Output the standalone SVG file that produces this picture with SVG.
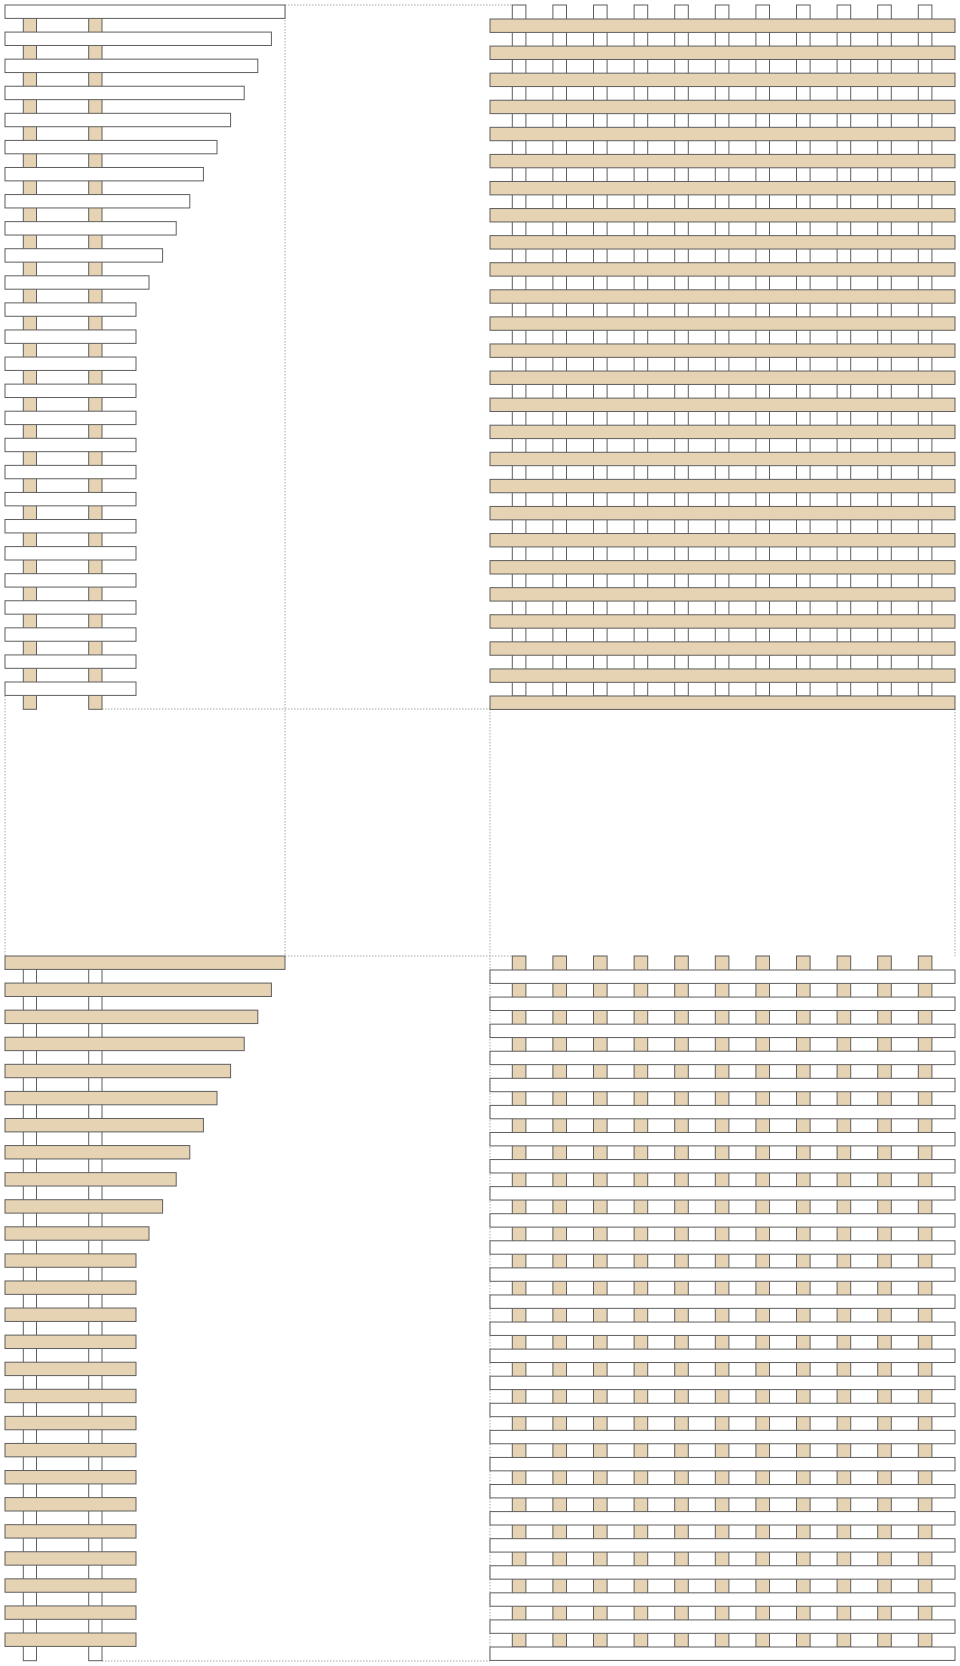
<svg xmlns="http://www.w3.org/2000/svg" width="960" height="1666" viewBox="0 0 960 1666">
<style>
.tan{fill:#e6d3b4;stroke:#5e5e5e;stroke-width:1}
.wht{fill:#ffffff;stroke:#5e5e5e;stroke-width:1}
.dot{fill:none;stroke:#a8a8a8;stroke-width:1;stroke-dasharray:1.5 1.5}
</style>
<rect width="960" height="1666" fill="#ffffff"/>
<g id="guides">
<path class="dot" d="M285 5H512 M285 5V956 M102 709H955 M5 696V956 M955 709V956 M285 956H512 M490 709V1661 M102 1661H490"/>
</g>
<g id="panel-top-left">
<rect class="tan" x="23.3" y="10" width="13.2" height="699.3"/>
<rect class="tan" x="88.7" y="10" width="13.3" height="699.3"/>
<rect class="wht" x="5" y="5" width="280" height="13.4"/>
<rect class="wht" x="5" y="32.08" width="266.4" height="13.4"/>
<rect class="wht" x="5" y="59.16" width="252.8" height="13.4"/>
<rect class="wht" x="5" y="86.24" width="239.2" height="13.4"/>
<rect class="wht" x="5" y="113.32" width="225.6" height="13.4"/>
<rect class="wht" x="5" y="140.4" width="212" height="13.4"/>
<rect class="wht" x="5" y="167.48" width="198.4" height="13.4"/>
<rect class="wht" x="5" y="194.56" width="184.8" height="13.4"/>
<rect class="wht" x="5" y="221.64" width="171.2" height="13.4"/>
<rect class="wht" x="5" y="248.72" width="157.6" height="13.4"/>
<rect class="wht" x="5" y="275.8" width="144" height="13.4"/>
<rect class="wht" x="5" y="302.88" width="131" height="13.4"/>
<rect class="wht" x="5" y="329.96" width="131" height="13.4"/>
<rect class="wht" x="5" y="357.04" width="131" height="13.4"/>
<rect class="wht" x="5" y="384.12" width="131" height="13.4"/>
<rect class="wht" x="5" y="411.2" width="131" height="13.4"/>
<rect class="wht" x="5" y="438.28" width="131" height="13.4"/>
<rect class="wht" x="5" y="465.36" width="131" height="13.4"/>
<rect class="wht" x="5" y="492.44" width="131" height="13.4"/>
<rect class="wht" x="5" y="519.52" width="131" height="13.4"/>
<rect class="wht" x="5" y="546.6" width="131" height="13.4"/>
<rect class="wht" x="5" y="573.68" width="131" height="13.4"/>
<rect class="wht" x="5" y="600.76" width="131" height="13.4"/>
<rect class="wht" x="5" y="627.84" width="131" height="13.4"/>
<rect class="wht" x="5" y="654.92" width="131" height="13.4"/>
<rect class="wht" x="5" y="682" width="131" height="13.4"/>
</g>
<g id="panel-top-right">
<rect class="wht" x="512.3" y="5" width="13.6" height="691"/>
<rect class="wht" x="552.9" y="5" width="13.6" height="691"/>
<rect class="wht" x="593.5" y="5" width="13.6" height="691"/>
<rect class="wht" x="634.1" y="5" width="13.6" height="691"/>
<rect class="wht" x="674.7" y="5" width="13.6" height="691"/>
<rect class="wht" x="715.3" y="5" width="13.6" height="691"/>
<rect class="wht" x="755.9" y="5" width="13.6" height="691"/>
<rect class="wht" x="796.5" y="5" width="13.6" height="691"/>
<rect class="wht" x="837.1" y="5" width="13.6" height="691"/>
<rect class="wht" x="877.7" y="5" width="13.6" height="691"/>
<rect class="wht" x="918.3" y="5" width="13.6" height="691"/>
<rect class="tan" x="490" y="19" width="465" height="13.4"/>
<rect class="tan" x="490" y="46.08" width="465" height="13.4"/>
<rect class="tan" x="490" y="73.16" width="465" height="13.4"/>
<rect class="tan" x="490" y="100.24" width="465" height="13.4"/>
<rect class="tan" x="490" y="127.32" width="465" height="13.4"/>
<rect class="tan" x="490" y="154.4" width="465" height="13.4"/>
<rect class="tan" x="490" y="181.48" width="465" height="13.4"/>
<rect class="tan" x="490" y="208.56" width="465" height="13.4"/>
<rect class="tan" x="490" y="235.64" width="465" height="13.4"/>
<rect class="tan" x="490" y="262.72" width="465" height="13.4"/>
<rect class="tan" x="490" y="289.8" width="465" height="13.4"/>
<rect class="tan" x="490" y="316.88" width="465" height="13.4"/>
<rect class="tan" x="490" y="343.96" width="465" height="13.4"/>
<rect class="tan" x="490" y="371.04" width="465" height="13.4"/>
<rect class="tan" x="490" y="398.12" width="465" height="13.4"/>
<rect class="tan" x="490" y="425.2" width="465" height="13.4"/>
<rect class="tan" x="490" y="452.28" width="465" height="13.4"/>
<rect class="tan" x="490" y="479.36" width="465" height="13.4"/>
<rect class="tan" x="490" y="506.44" width="465" height="13.4"/>
<rect class="tan" x="490" y="533.52" width="465" height="13.4"/>
<rect class="tan" x="490" y="560.6" width="465" height="13.4"/>
<rect class="tan" x="490" y="587.68" width="465" height="13.4"/>
<rect class="tan" x="490" y="614.76" width="465" height="13.4"/>
<rect class="tan" x="490" y="641.84" width="465" height="13.4"/>
<rect class="tan" x="490" y="668.92" width="465" height="13.4"/>
<rect class="tan" x="490" y="696" width="465" height="13.4"/>
</g>
<g id="panel-bottom-left">
<rect class="wht" x="23.3" y="961" width="13.2" height="699.7"/>
<rect class="wht" x="88.7" y="961" width="13.3" height="699.7"/>
<rect class="tan" x="5" y="956" width="280" height="13.4"/>
<rect class="tan" x="5" y="983.08" width="266.4" height="13.4"/>
<rect class="tan" x="5" y="1010.16" width="252.8" height="13.4"/>
<rect class="tan" x="5" y="1037.24" width="239.2" height="13.4"/>
<rect class="tan" x="5" y="1064.32" width="225.6" height="13.4"/>
<rect class="tan" x="5" y="1091.4" width="212" height="13.4"/>
<rect class="tan" x="5" y="1118.48" width="198.4" height="13.4"/>
<rect class="tan" x="5" y="1145.56" width="184.8" height="13.4"/>
<rect class="tan" x="5" y="1172.64" width="171.2" height="13.4"/>
<rect class="tan" x="5" y="1199.72" width="157.6" height="13.4"/>
<rect class="tan" x="5" y="1226.8" width="144" height="13.4"/>
<rect class="tan" x="5" y="1253.88" width="131" height="13.4"/>
<rect class="tan" x="5" y="1280.96" width="131" height="13.4"/>
<rect class="tan" x="5" y="1308.04" width="131" height="13.4"/>
<rect class="tan" x="5" y="1335.12" width="131" height="13.4"/>
<rect class="tan" x="5" y="1362.2" width="131" height="13.4"/>
<rect class="tan" x="5" y="1389.28" width="131" height="13.4"/>
<rect class="tan" x="5" y="1416.36" width="131" height="13.4"/>
<rect class="tan" x="5" y="1443.44" width="131" height="13.4"/>
<rect class="tan" x="5" y="1470.52" width="131" height="13.4"/>
<rect class="tan" x="5" y="1497.6" width="131" height="13.4"/>
<rect class="tan" x="5" y="1524.68" width="131" height="13.4"/>
<rect class="tan" x="5" y="1551.76" width="131" height="13.4"/>
<rect class="tan" x="5" y="1578.84" width="131" height="13.4"/>
<rect class="tan" x="5" y="1605.92" width="131" height="13.4"/>
<rect class="tan" x="5" y="1633" width="131" height="13.4"/>
</g>
<g id="panel-bottom-right">
<rect class="tan" x="512.3" y="956" width="13.6" height="691"/>
<rect class="tan" x="552.9" y="956" width="13.6" height="691"/>
<rect class="tan" x="593.5" y="956" width="13.6" height="691"/>
<rect class="tan" x="634.1" y="956" width="13.6" height="691"/>
<rect class="tan" x="674.7" y="956" width="13.6" height="691"/>
<rect class="tan" x="715.3" y="956" width="13.6" height="691"/>
<rect class="tan" x="755.9" y="956" width="13.6" height="691"/>
<rect class="tan" x="796.5" y="956" width="13.6" height="691"/>
<rect class="tan" x="837.1" y="956" width="13.6" height="691"/>
<rect class="tan" x="877.7" y="956" width="13.6" height="691"/>
<rect class="tan" x="918.3" y="956" width="13.6" height="691"/>
<rect class="wht" x="490" y="970" width="465" height="13.4"/>
<rect class="wht" x="490" y="997.08" width="465" height="13.4"/>
<rect class="wht" x="490" y="1024.16" width="465" height="13.4"/>
<rect class="wht" x="490" y="1051.24" width="465" height="13.4"/>
<rect class="wht" x="490" y="1078.32" width="465" height="13.4"/>
<rect class="wht" x="490" y="1105.4" width="465" height="13.4"/>
<rect class="wht" x="490" y="1132.48" width="465" height="13.4"/>
<rect class="wht" x="490" y="1159.56" width="465" height="13.4"/>
<rect class="wht" x="490" y="1186.64" width="465" height="13.4"/>
<rect class="wht" x="490" y="1213.72" width="465" height="13.4"/>
<rect class="wht" x="490" y="1240.8" width="465" height="13.4"/>
<rect class="wht" x="490" y="1267.88" width="465" height="13.4"/>
<rect class="wht" x="490" y="1294.96" width="465" height="13.4"/>
<rect class="wht" x="490" y="1322.04" width="465" height="13.4"/>
<rect class="wht" x="490" y="1349.12" width="465" height="13.4"/>
<rect class="wht" x="490" y="1376.2" width="465" height="13.4"/>
<rect class="wht" x="490" y="1403.28" width="465" height="13.4"/>
<rect class="wht" x="490" y="1430.36" width="465" height="13.4"/>
<rect class="wht" x="490" y="1457.44" width="465" height="13.4"/>
<rect class="wht" x="490" y="1484.52" width="465" height="13.4"/>
<rect class="wht" x="490" y="1511.6" width="465" height="13.4"/>
<rect class="wht" x="490" y="1538.68" width="465" height="13.4"/>
<rect class="wht" x="490" y="1565.76" width="465" height="13.4"/>
<rect class="wht" x="490" y="1592.84" width="465" height="13.4"/>
<rect class="wht" x="490" y="1619.92" width="465" height="13.4"/>
<rect class="wht" x="490" y="1647" width="465" height="13.4"/>
</g>
</svg>
